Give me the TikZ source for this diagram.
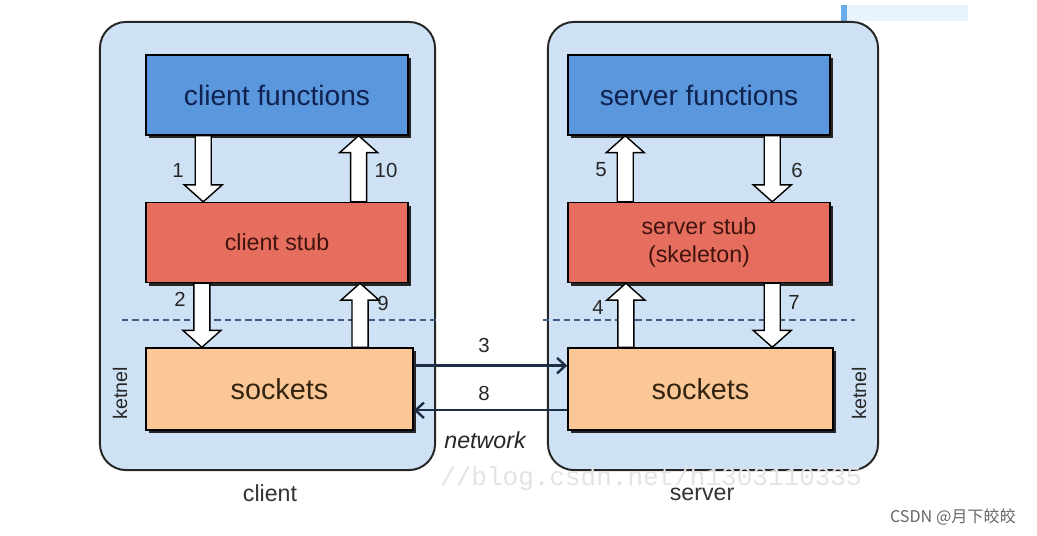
\documentclass[tikz,border=0pt]{standalone}
\usepackage{fontspec}
\setmainfont{Liberation Sans}
\newfontfamily\cjk{Noto Sans CJK SC}
\newfontfamily\wmfont{Liberation Mono}
\usepackage{tikz}
\usetikzlibrary{arrows.meta}
\usetikzlibrary{calc,shadows,positioning}

\definecolor{panelfill}{HTML}{CFE2F5}
\definecolor{funcfill}{HTML}{5A97DC}
\definecolor{stubfill}{HTML}{E56E5E}
\definecolor{sockfill}{HTML}{FBC797}
\definecolor{navytext}{HTML}{10224F}
\definecolor{stubtext}{HTML}{42140F}
\definecolor{socktext}{HTML}{33240F}
\definecolor{netblue}{HTML}{1C2D45}
\definecolor{dashblue}{HTML}{3F5E86}
\definecolor{stripfill}{HTML}{E9F3FD}
\definecolor{stripedge}{HTML}{6AAEEB}

% vertical block arrow: from #1 to the height of #2
\newcommand\blockarrow[2]{%
  \draw[blockarrow] let \p1=(#1), \p2=(#2), \n1={sign(\y1-\y2)} in
    (\x1-5.7pt,\y1) -- (\x1+5.7pt,\y1) -- (\x1+5.7pt,\y2+\n1*12pt)
    -- (\x1+13.5pt,\y2+\n1*12pt) -- (\x1,\y2) -- (\x1-13.5pt,\y2+\n1*12pt)
    -- (\x1-5.7pt,\y2+\n1*12pt) -- cycle;}

\begin{document}
\begin{tikzpicture}[x=0.025cm, y=-0.025cm,
    panel/.style={rectangle, draw=black!85, line width=1.4pt, rounded corners=0.65cm,
      fill=panelfill, inner sep=0pt},
    box/.style={rectangle, draw=black, line width=1pt, inner sep=0pt,
      minimum width=6.55cm, minimum height=2cm, align=center,
      drop shadow={shadow xshift=2.2pt, shadow yshift=-2.2pt, fill=black!85, opacity=1}},
    func/.style={box, fill=funcfill, text=navytext, font=\fontsize{20}{24}\selectfont},
    stub/.style={box, fill=stubfill, text=stubtext, font=\fontsize{16.5}{20}\selectfont},
    sock/.style={box, fill=sockfill, text=socktext, font=\fontsize{20.5}{24}\selectfont},
    blockarrow/.style={draw=black, line width=1pt, fill=white},
    kernelline/.style={dashblue, line width=1.3pt, dash pattern=on 4.5pt off 2.8pt},
    num/.style={text=black!85, font=\fontsize{14.5}{17}\selectfont, inner sep=1pt},
    netarrow/.style={draw=netblue, line width=1.7pt, -{Straight Barb[length=6pt,width=11pt]}},
    sidelabel/.style={text=black!85, font=\fontsize{14}{17}\selectfont, rotate=90},
    caption/.style={text=black!80, font=\fontsize{16.5}{20}\selectfont}]

\useasboundingbox (0,0) rectangle (1037,535);

% screenshot strip at the top right
\fill[stripfill] (841,5) rectangle (968,21);
\fill[stripedge] (841,5) rectangle (847,21);

% the two machines
\node[panel, minimum width=8.375cm, minimum height=11.2cm] (client) at (267.5,246) {};
\node[panel, minimum width=8.25cm, minimum height=11.2cm] (server) at (713,246) {};

% kernel boundary
\draw[kernelline] (122,320) -- (client.east |- 0,320);
\draw[kernelline] (543,320) -- (855,320);

% client side
\node[func] (cf) at (277,95) {client functions};
\node[stub] (cs) at (277,242.5) {client stub};
\node[sock, minimum width=6.675cm, minimum height=2.05cm] (ck) at (279.5,389) {sockets};

% server side
\node[func] (sf) at (699,95) {server functions};
\node[stub] (ss) at (699,242.5) {server stub\\(skeleton)};
\node[sock, minimum width=6.625cm, minimum height=2.05cm] (sk) at (700.5,389) {sockets};

% calls through the stubs
\blockarrow{$(cf.south west)!.22!(cf.south east)$}{cs.north}
\blockarrow{$(cs.north west)!.81!(cs.north east)$}{cf.south}
\blockarrow{$(cs.south west)!.215!(cs.south east)$}{ck.north}
\blockarrow{$(ck.north west)!.8!(ck.north east)$}{cs.south}
\blockarrow{$(ss.north west)!.22!(ss.north east)$}{sf.south}
\blockarrow{$(sf.south west)!.778!(sf.south east)$}{ss.north}
\blockarrow{$(sk.north west)!.22!(sk.north east)$}{ss.south}
\blockarrow{$(ss.south west)!.778!(ss.south east)$}{sk.north}

\node[num] (n1) at (178,170) {1};
\node[num] (n10) at (386,170) {10};
\node[num] (n2) at (180,299) {2};
\node[num] (n9) at (383,303) {9};
\node[num] (n5) at (601,170) {5};
\node[num] (n6) at (797,170) {6};
\node[num] (n4) at (598,307) {4};
\node[num] (n7) at (794,302) {7};

% network
\draw[netarrow] ($(ck.north east)!.22!(ck.south east)$) -- ($(sk.north west)!.22!(sk.south west)$);
\draw[netarrow] ($(sk.north west)!.755!(sk.south west)$) -- ($(ck.north east)!.755!(ck.south east)$);
\node[num] (n3) at (484,345) {3};
\node[num] (n8) at (484,393) {8};
\node[caption, font=\fontsize{16.5}{20}\selectfont\itshape, text=black!85] (net) at (485,440) {network};

\node[sidelabel] (kc) at (120,393) {ketnel};
\node[sidelabel] (ks) at (859,393) {ketnel};

% watermarks
\node[text=black!11, font=\wmfont\fontsize{18.5}{22}\selectfont] (wm) at (651,479) {//blog.csdn.net/h1303110335};
\node[text=black!60, font=\cjk\fontsize{11.5}{14}\selectfont] (csdn) at (953,517) {CSDN @月下皎皎};

\node[caption] (lc) at (270,493) {client};
\node[caption] (ls) at (702,494) {server};
\end{tikzpicture}
\end{document}
